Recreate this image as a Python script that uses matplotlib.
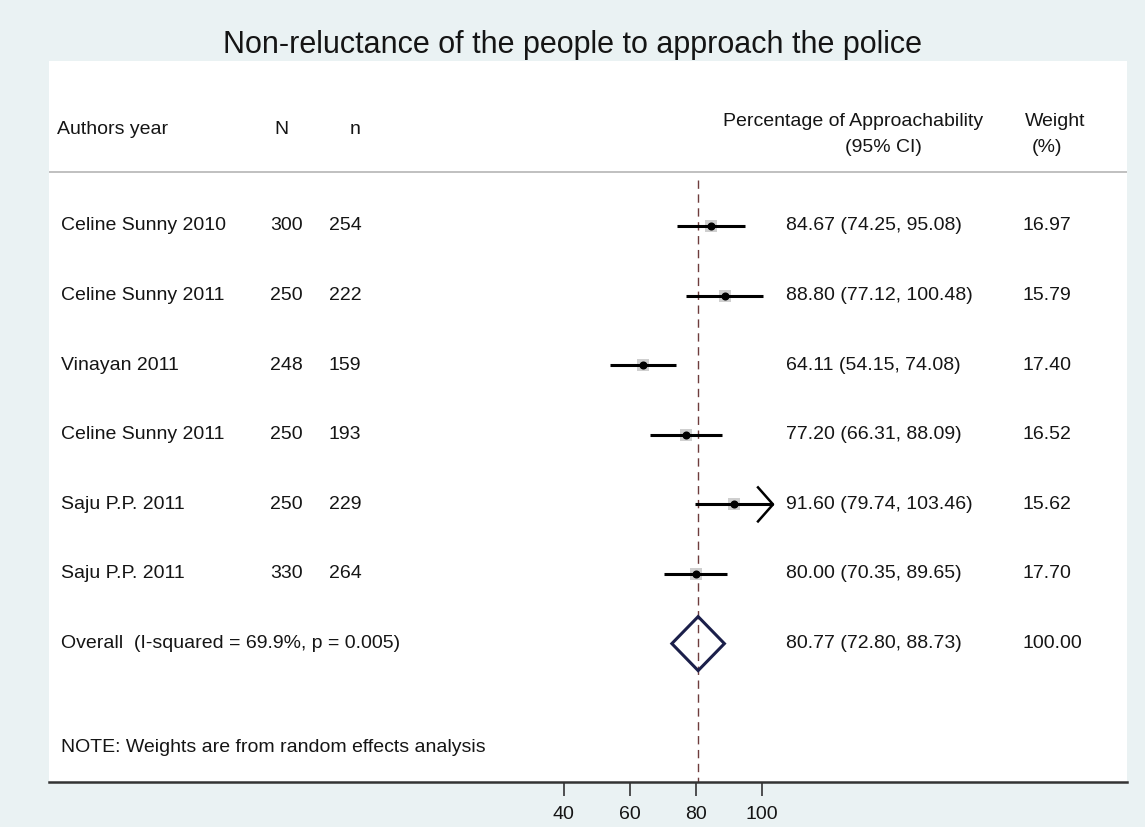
import numpy as np
import matplotlib
matplotlib.use('Agg')
import matplotlib.pyplot as plt
from matplotlib.patches import Polygon

plt.rcParams['font.family'] = ['Liberation Sans', 'DejaVu Sans']

# 数据
studies = ['Celine Sunny 2010', 'Celine Sunny 2011', 'Vinayan 2011',
           'Celine Sunny 2011', 'Saju P.P. 2011', 'Saju P.P. 2011']
N_total = [300, 250, 248, 250, 250, 330]
n_yes = [254, 222, 159, 193, 229, 264]
est = [84.67, 88.80, 64.11, 77.20, 91.60, 80.00]
lo = [74.25, 77.12, 54.15, 66.31, 79.74, 70.35]
hi = [95.08, 100.48, 74.08, 88.09, 103.46, 89.65]
weights = [16.97, 15.79, 17.40, 16.52, 15.62, 17.70]

overall_label = 'Overall  (I-squared = 69.9%, p = 0.005)'
overall_est, overall_lo, overall_hi = 80.77, 72.80, 88.73
overall_weight = 100.00
x_ticks = [40, 60, 80, 100]
x_clip = 100.5  # beyond this the CI gets an arrow

W, H = 1145, 827
BG = '#eaf2f3'
TXT = '#151515'
FS = 14

# 像素 -> 数据 (x 轴比例)
X0, SX = 431.6, 3.3
def px2v(px):
    return (px - X0) / SX

panel_l, panel_r, panel_t, panel_b = 49, 1127, 61, 782

fig = plt.figure(figsize=(W / 100, H / 100), dpi=100, facecolor=BG)
ax = fig.add_axes([panel_l / W, 1 - panel_b / H,
                   (panel_r - panel_l) / W, (panel_b - panel_t) / H])
ax.set_facecolor('white')
ax.set_xlim(px2v(panel_l), px2v(panel_r))
ax.set_ylim(panel_b, panel_t)  # y in pixel rows, inverted

for s in ['top', 'left', 'right']:
    ax.spines[s].set_visible(False)
ax.spines['bottom'].set_linewidth(1.8)
ax.spines['bottom'].set_color('#333333')
ax.set_yticks([])
ax.set_xticks(x_ticks)
ax.set_xticklabels([str(t) for t in x_ticks])
ax.tick_params(axis='x', direction='out', length=10, width=1.2,
               colors='#333333', labelsize=FS, pad=7, labelcolor=TXT)

fig.text(0.5, 1 - 45 / H, 'Non-reluctance of the people to approach the police',
         ha='center', va='center', fontsize=22, color=TXT)

# 表头
hy1, hy2 = 122, 147
ax.text(px2v(57), 130, 'Authors year', ha='left', va='center', fontsize=FS, color=TXT)
ax.text(px2v(281), 130, 'N', ha='center', va='center', fontsize=FS, color=TXT)
ax.text(px2v(355), 130, 'n', ha='center', va='center', fontsize=FS, color=TXT)
ax.text(px2v(853), hy1, 'Percentage of Approachability', ha='center', va='center',
        fontsize=FS, color=TXT)
ax.text(px2v(883), hy2, '(95% CI)', ha='center', va='center', fontsize=FS, color=TXT)
ax.text(px2v(1055), hy1, 'Weight', ha='center', va='center', fontsize=FS, color=TXT)
ax.text(px2v(1047), hy2, '(%)', ha='center', va='center', fontsize=FS, color=TXT)
ax.axhline(172, color='#b5b5b5', linewidth=1.2)

row_y0, row_dy = 226, 69.6
rows_y = [row_y0 + row_dy * i for i in range(len(studies) + 1)]

# 合并效应虚线
ax.plot([overall_est, overall_est], [180, panel_b], color='#6e3c3c',
        linewidth=1.0, dashes=(6, 4), zorder=1)

for i, y in enumerate(rows_y[:-1]):
    ax.text(px2v(61), y, studies[i], ha='left', va='center', fontsize=FS, color=TXT)
    ax.text(px2v(270), y, str(N_total[i]), ha='left', va='center', fontsize=FS, color=TXT)
    ax.text(px2v(329), y, str(n_yes[i]), ha='left', va='center', fontsize=FS, color=TXT)
    ax.text(px2v(786), y, f'{est[i]:.2f} ({lo[i]:.2f}, {hi[i]:.2f})',
            ha='left', va='center', fontsize=FS, color=TXT)
    ax.text(px2v(1022), y, f'{weights[i]:.2f}', ha='left', va='center',
            fontsize=FS, color=TXT)

    ax.plot([lo[i], hi[i]], [y, y], color='black', linewidth=2.2,
            solid_capstyle='butt', zorder=3)
    ax.plot(est[i], y, marker='s', markersize=9 * np.sqrt(weights[i] / 17),
            color='#cfcfcf', markeredgewidth=0, zorder=2)
    ax.plot(est[i], y, marker='o', markersize=4.8, color='black', zorder=4)
    if hi[i] > x_clip:
        dx, dy = 15 / SX, 17
        ax.plot([hi[i] - dx, hi[i], hi[i] - dx], [y - dy, y, y + dy],
                color='black', linewidth=1.8, zorder=3)

# 合并效应
yo = rows_y[-1]
ax.text(px2v(61), yo, overall_label, ha='left', va='center', fontsize=FS, color=TXT)
ax.text(px2v(786), yo, f'{overall_est:.2f} ({overall_lo:.2f}, {overall_hi:.2f})',
        ha='left', va='center', fontsize=FS, color=TXT)
ax.text(px2v(1022), yo, f'{overall_weight:.2f}', ha='left', va='center',
        fontsize=FS, color=TXT)
dia = Polygon([[overall_lo, yo], [overall_est, yo - 27], [overall_hi, yo],
               [overall_est, yo + 27]], closed=True, fill=False,
              edgecolor='#1b1f4a', linewidth=2.2, zorder=3)
ax.add_patch(dia)

ax.text(px2v(61), 748, 'NOTE: Weights are from random effects analysis',
        ha='left', va='center', fontsize=FS, color=TXT)

fig.savefig('out.png', dpi=100, facecolor=BG)
